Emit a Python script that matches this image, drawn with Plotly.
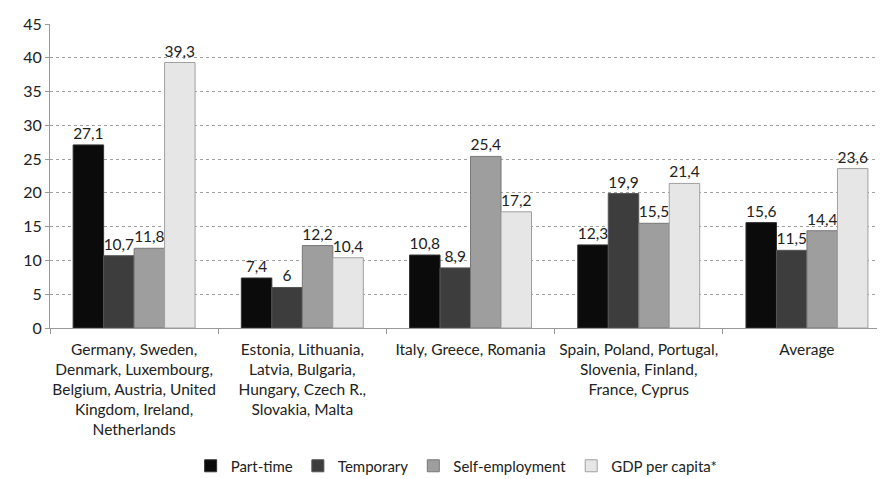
import plotly.graph_objects as go

categories = [
    "Germany, Sweden,<br>Denmark, Luxembourg,<br>Belgium, Austria, United<br>Kingdom, Ireland,<br>Netherlands",
    "Estonia, Lithuania,<br>Latvia, Bulgaria,<br>Hungary, Czech R.,<br>Slovakia, Malta",
    "Italy, Greece, Romania",
    "Spain, Poland, Portugal,<br>Slovenia, Finland,<br>France, Cyprus",
    "Average",
]
part_time = [27.1, 7.4, 10.8, 12.3, 15.6]
temporary = [10.7, 6, 8.9, 19.9, 11.5]
self_employment = [11.8, 12.2, 25.4, 15.5, 14.4]
gdp_per_capita = [39.3, 10.4, 17.2, 21.4, 23.6]

series = [
    ("Part-time", part_time, "#0b0b0b", "#333333"),
    ("Temporary", temporary, "#3d3d3d", "#555555"),
    ("Self-employment", self_employment, "#9e9e9e", "#777777"),
    ("GDP per capita*", gdp_per_capita, "#e6e6e6", "#a0a0a0"),
]

def fmt(v):
    return ("%g" % v).replace(".", ",")

fig = go.Figure()
for name, vals, color, line in series:
    fig.add_trace(go.Bar(
        name=name, x=categories, y=vals,
        marker=dict(color=color, line=dict(color=line, width=1)),
        text=[fmt(v) for v in vals], textposition="outside",
        textfont=dict(size=15.5, color="#222222"),
        cliponaxis=False,
    ))

fig.update_layout(
    width=877, height=471,
    margin=dict(l=42, r=0, t=16, b=151, autoexpand=False),
    barmode="group", bargap=0.275, bargroupgap=0,
    plot_bgcolor="white", paper_bgcolor="white",
    font=dict(family="Lato, Open Sans, sans-serif", size=15.5, color="#222222"),
    showlegend=True,
    legend=dict(orientation="h", x=0.487, xanchor="center", y=-0.454, yanchor="middle",
                font=dict(size=15), traceorder="normal", itemwidth=30,
                tracegroupgap=0),
    xaxis=dict(showline=True, linecolor="#999999", linewidth=1, automargin=False,
               tickangle=0, range=[-0.5, 4.464], ticklabelstandoff=7,
               ticks="outside", tickson="boundaries", tickcolor="#999999", ticklen=5,
               tickfont=dict(size=15.5)),
    yaxis=dict(range=[0, 45], dtick=5, showline=True, linecolor="#999999", automargin=False,
               ticks="outside", tickcolor="#999999", ticklen=4,
               showgrid=True, gridcolor="#a0a0a0", griddash="dot", gridwidth=1,
               zeroline=False, tickfont=dict(size=16)),
)

fig.write_html("out.html")
